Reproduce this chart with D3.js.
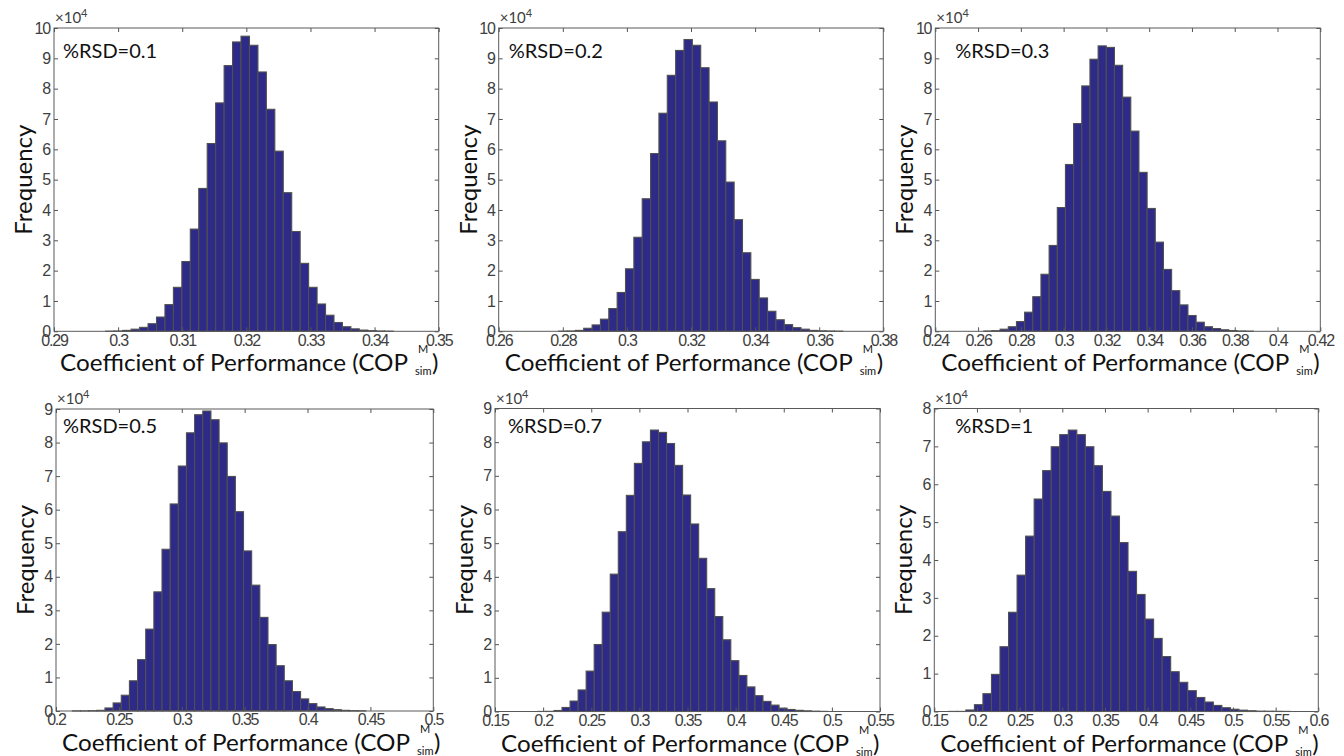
<!DOCTYPE html>
<meta charset="utf-8">
<style>
body {
	margin: 0;
	background-color: #ffffff;
	font-family: Lato, "Open Sans", sans-serif;
}
.tick text {
	font-size: 16px;
	fill: #404040;
	letter-spacing: -1.2px;
}
.tick line {
	stroke: #555;
}
.domain {
	display: none;
}
</style>
<body>
<script src="https://d3js.org/d3.v7.min.js"></script>
<script>
var width = 1344;
var height = 756;

var barColor = '#2e2a87';
var edgeColor = '#505050';

// panel labels
var rsdLabels = ['%RSD=0.1', '%RSD=0.2', '%RSD=0.3', '%RSD=0.5', '%RSD=0.7', '%RSD=1'];

// histogram bins: left edge of first bin and bin width
var binLo = [0.29808, 0.27871, 0.26267, 0.21302, 0.1946, 0.167];
var binWidth = [0.001318, 0.002607, 0.003818, 0.00648, 0.00835, 0.01];

// frequencies in units of 10^4
var freqRsd01 = [0.005,0.01,0.03,0.07,0.13,0.25,0.47,0.88,1.45,2.3,3.37,4.71,6.19,7.53,8.76,9.54,9.73,9.43,8.55,7.32,5.94,4.57,3.29,2.24,1.45,0.9,0.53,0.29,0.15,0.08,0.04,0.02,0.01,0.005];
var freqRsd02 = [0.005,0.01,0.03,0.1,0.21,0.4,0.75,1.28,2.06,3.1,4.37,5.86,7.19,8.44,9.26,9.62,9.43,8.69,7.56,6.28,4.92,3.68,2.59,1.71,1.1,0.66,0.38,0.22,0.12,0.07,0.03,0.015,0.01,0.005];
var freqRsd03 = [0.01,0.02,0.07,0.15,0.32,0.63,1.14,1.88,2.83,4.08,5.5,6.85,8.09,8.97,9.41,9.36,8.77,7.72,6.6,5.24,4.05,2.94,2.04,1.34,0.87,0.52,0.3,0.15,0.09,0.05,0.025,0.01,0.005];
var freqRsd05 = [0.003,0.003,0.008,0.02,0.09,0.24,0.47,0.9,1.53,2.44,3.55,4.82,6.17,7.3,8.29,8.83,8.94,8.68,7.99,6.99,5.94,4.77,3.75,2.79,1.98,1.35,0.9,0.58,0.36,0.22,0.12,0.07,0.04,0.02,0.01,0.005];
var freqRsd07 = [0.003,0.005,0.03,0.12,0.31,0.64,1.2,1.99,2.95,4.08,5.34,6.42,7.37,8.01,8.36,8.29,7.96,7.31,6.43,5.57,4.55,3.65,2.82,2.13,1.51,1.07,0.73,0.47,0.3,0.19,0.1,0.06,0.035,0.02,0.01,0.005];
var freqRsd1 = [0.003,0.003,0.04,0.18,0.47,0.98,1.71,2.62,3.6,4.63,5.61,6.36,6.99,7.31,7.43,7.31,6.99,6.49,5.81,5.16,4.46,3.7,3.09,2.44,1.93,1.45,1.05,0.77,0.55,0.37,0.25,0.16,0.1,0.06,0.035,0.02,0.01,0.008,0.005,0.003];
var freqs = [freqRsd01, freqRsd02, freqRsd03, freqRsd05, freqRsd07, freqRsd1];

// axes
var xDomains = [[0.29, 0.35], [0.26, 0.38], [0.24, 0.42], [0.2, 0.5], [0.15, 0.55], [0.15, 0.6]];
var xTicks = [
	[0.29, 0.3, 0.31, 0.32, 0.33, 0.34, 0.35],
	[0.26, 0.28, 0.3, 0.32, 0.34, 0.36, 0.38],
	[0.24, 0.26, 0.28, 0.3, 0.32, 0.34, 0.36, 0.38, 0.4, 0.42],
	[0.2, 0.25, 0.3, 0.35, 0.4, 0.45, 0.5],
	[0.15, 0.2, 0.25, 0.3, 0.35, 0.4, 0.45, 0.5, 0.55],
	[0.15, 0.2, 0.25, 0.3, 0.35, 0.4, 0.45, 0.5, 0.55, 0.6]
];
var yMax = [10, 10, 10, 9, 9, 8];

// plot boxes: left, top, right, bottom (pixels)
var boxes = [
	[54, 28, 438.7, 331.3],
	[498.7, 28, 883.3, 331.3],
	[935.3, 28, 1320.3, 331.3],
	[56, 409, 433.3, 711],
	[495, 408.5, 880, 711.5],
	[934.3, 408.5, 1318.3, 711.5]
];
var rsdPos = [[9, 30], [10, 30], [20, 30], [7, 24], [13, 24], [21, 24]];

var svg = d3.select('body')
	.append('svg')
	.attr('width', width)
	.attr('height', height);

var fmt = function(v) { return String(+v.toFixed(2)); };

for (var p = 0; p < 6; p++) {
	var b = boxes[p];
	var w = b[2] - b[0], h = b[3] - b[1];

	var x = d3.scaleLinear().domain(xDomains[p]).range([0, w]);
	var y = d3.scaleLinear().domain([0, yMax[p]]).range([h, 0]);

	var g = svg.append('g').attr('transform', 'translate(' + b[0] + ',' + b[1] + ')');

	var lo = binLo[p], bw = binWidth[p];
	g.selectAll('rect.bar')
		.data(freqs[p])
		.enter()
		.append('rect')
		.attr('class', 'bar')
		.attr('x', function(d, i) { return x(lo + i * bw); })
		.attr('width', function(d, i) { return x(lo + (i + 1) * bw) - x(lo + i * bw); })
		.attr('y', function(d) { return y(d); })
		.attr('height', function(d) { return h - y(d); })
		.style('fill', barColor)
		.style('stroke', edgeColor)
		.style('stroke-width', 1.1);

	// axes with inward ticks on all four sides
	g.append('g')
		.attr('transform', 'translate(0,' + h + ')')
		.call(d3.axisBottom(x).tickValues(xTicks[p]).tickSizeInner(-4).tickSizeOuter(0).tickPadding(3).tickFormat(fmt));
	g.append('g')
		.call(d3.axisTop(x).tickValues(xTicks[p]).tickSizeInner(-4).tickSizeOuter(0).tickFormat(''));
	g.append('g')
		.call(d3.axisLeft(y).tickValues(d3.range(0, yMax[p] + 1)).tickSizeInner(-4).tickSizeOuter(0).tickPadding(4).tickFormat(d3.format('d')));
	g.append('g')
		.attr('transform', 'translate(' + w + ',0)')
		.call(d3.axisRight(y).tickValues(d3.range(0, yMax[p] + 1)).tickSizeInner(-4).tickSizeOuter(0).tickFormat(''));

	g.append('rect')
		.attr('width', w)
		.attr('height', h)
		.style('fill', 'none')
		.style('stroke', '#5a5a5a')
		.style('stroke-width', 1);

	// x10^4 multiplier
	var mult = g.append('text')
		.attr('x', 1)
		.attr('y', -5)
		.style('font-size', '15px')
		.style('fill', '#404040')
		.text('\u00d710');
	mult.append('tspan')
		.attr('dy', -6)
		.style('font-size', '11px')
		.text('4');

	g.append('text')
		.attr('x', rsdPos[p][0])
		.attr('y', rsdPos[p][1])
		.style('font-size', '20px')
		.style('fill', '#111')
		.text(rsdLabels[p]);

	// y label
	g.append('text')
		.attr('transform', 'translate(-22,' + (h / 2) + ') rotate(-90)')
		.attr('text-anchor', 'middle')
		.style('font-size', '24px')
		.style('fill', '#111')
		.text('Frequency');

	// x label with stacked super/subscript
	var lx = 6, ly = h + 40;
	g.append('text')
		.attr('x', lx)
		.attr('y', ly)
		.attr('textLength', 348)
		.attr('lengthAdjust', 'spacingAndGlyphs')
		.style('font-size', '24px')
		.style('fill', '#111')
		.text('Coefficient of Performance (COP');
	var end = lx + 348;
	g.append('text')
		.attr('x', end + 10)
		.attr('y', ly - 18)
		.style('font-size', '11px')
		.style('fill', '#111')
		.text('M');
	g.append('text')
		.attr('x', end + 7)
		.attr('y', ly + 4)
		.style('font-size', '11px')
		.style('fill', '#111')
		.text('sim');
	g.append('text')
		.attr('x', end + 24)
		.attr('y', ly)
		.style('font-size', '24px')
		.style('fill', '#111')
		.text(')');
}
</script>
</body>
